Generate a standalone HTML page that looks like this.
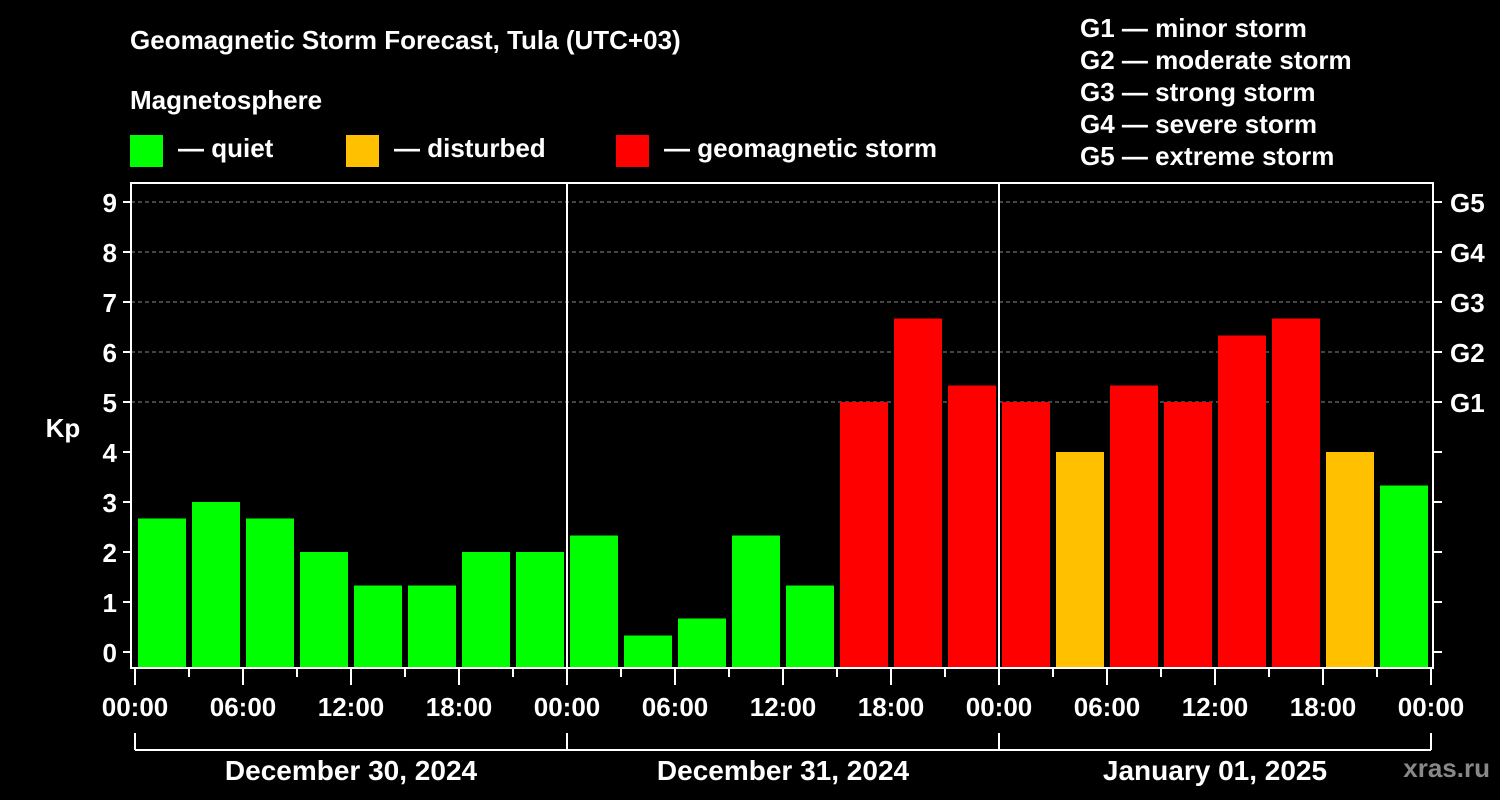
<!DOCTYPE html>
<html><head><meta charset="utf-8"><style>
html,body{margin:0;padding:0;background:#000;}
svg{display:block;font-family:"Liberation Sans",Arial,sans-serif;font-weight:bold;}
</style></head><body>
<svg id="chart" width="1500" height="800" viewBox="0 0 1500 800">
<rect x="0" y="0" width="1500" height="800" fill="#000"/>
<text x="130" y="49" fill="#fff" font-size="26">Geomagnetic Storm Forecast, Tula (UTC+03)</text>
<text x="130" y="109" fill="#fff" font-size="26">Magnetosphere</text>
<g><rect x="130" y="135" width="33" height="32" fill="#00ff00"/><text x="178" y="157" fill="#fff" font-size="26">— quiet</text></g>
<g><rect x="346" y="135" width="33" height="32" fill="#ffc000"/><text x="394" y="157" fill="#fff" font-size="26">— disturbed</text></g>
<g><rect x="616" y="135" width="33" height="32" fill="#ff0000"/><text x="664" y="157" fill="#fff" font-size="26">— geomagnetic storm</text></g>
<g fill="#fff" font-size="26">
<text x="1080" y="37">G1 — minor storm</text>
<text x="1080" y="69">G2 — moderate storm</text>
<text x="1080" y="101">G3 — strong storm</text>
<text x="1080" y="133">G4 — severe storm</text>
<text x="1080" y="165">G5 — extreme storm</text>
</g>
<text x="63" y="437" fill="#fff" font-size="26" text-anchor="middle">Kp</text>
<text x="1490" y="777" fill="#888" font-size="26" text-anchor="end">xras.ru</text>
<g id="grid"></g><g id="bars"></g><g id="axes"></g>
</svg>
<script>
const kpValues = [2.67,3,2.67,2,1.33,1.33,2,2, 2.33,0.33,0.67,2.33,1.33,5,6.67,5.33, 5,4,5.33,5,6.33,6.67,4,3.33];
const barColors = ["q","q","q","q","q","q","q","q","q","q","q","q","q","s","s","s","s","d","s","s","s","s","d","q"];
const yTicks = [0,1,2,3,4,5,6,7,8,9];
const gLabels = ["","","","","","G1","G2","G3","G4","G5"];
const xTickLabels = ["00:00","06:00","12:00","18:00","00:00","06:00","12:00","18:00","00:00","06:00","12:00","18:00","00:00"];
const dayLabels = ["December 30, 2024","December 31, 2024","January 01, 2025"];
const NS="http://www.w3.org/2000/svg";
const L=131,R=1433,T=183,B=668,X0=135,HOUR=18;
const y=v=>652-v*50;
const x=h=>X0+h*HOUR;
const col={q:"#00ff00",d:"#ffc000",s:"#ff0000"};
function mk(tag,attrs,parent,txt){const e=document.createElementNS(NS,tag);for(const k in attrs)e.setAttribute(k,attrs[k]);if(txt!==undefined)e.textContent=txt;document.getElementById(parent).appendChild(e);return e;}
yTicks.forEach(v=>{if(v>=5){const g=mk("line",{x1:L,x2:R,y1:y(v),y2:y(v),stroke:"#888","stroke-dasharray":"4,3","stroke-width":1},"grid");

}});
kpValues.forEach((v,i)=>{const r=mk("rect",{x:x(i*3)+3,y:y(v),width:48,height:B-y(v),fill:col[barColors[i]]},"bars");

});
mk("rect",{x:L,y:T,width:R-L,height:B-T,fill:"none",stroke:"#fff","stroke-width":2},"axes");
[1,2].forEach(d=>{const l=mk("line",{x1:x(d*24),x2:x(d*24),y1:T,y2:B,stroke:"#fff","stroke-width":2},"axes");

});
yTicks.forEach((v,i)=>{
mk("line",{x1:L-8,x2:L,y1:y(v),y2:y(v),stroke:"#fff","stroke-width":2},"axes");
mk("line",{x1:R,x2:R+9,y1:y(v),y2:y(v),stroke:"#fff","stroke-width":2},"axes");
const t=mk("text",{x:L-14,y:y(v)+10,fill:"#fff","font-size":26,"text-anchor":"end"},"axes",String(v));


if(gLabels[i]){const g=mk("text",{x:1450,y:y(v)+10,fill:"#fff","font-size":26},"axes",gLabels[i]);

}
});
for(let h=0;h<=72;h+=3){mk("line",{x1:x(h),x2:x(h),y1:B,y2:h%6===0?B+17:B+9,stroke:"#fff","stroke-width":2},"axes");}
xTickLabels.forEach((s,i)=>{const t=mk("text",{x:x(i*6),y:716,fill:"#fff","font-size":26,"text-anchor":"middle"},"axes",s);

});
mk("line",{x1:x(0),x2:x(72),y1:750,y2:750,stroke:"#fff","stroke-width":2},"axes");
for(let d=0;d<=3;d++){mk("line",{x1:x(d*24),x2:x(d*24),y1:733,y2:750,stroke:"#fff","stroke-width":2},"axes");}
dayLabels.forEach((s,i)=>{const t=mk("text",{x:x(i*24+12),y:780,fill:"#fff","font-size":28,"text-anchor":"middle"},"axes",s);

});
</script>
</body></html>
